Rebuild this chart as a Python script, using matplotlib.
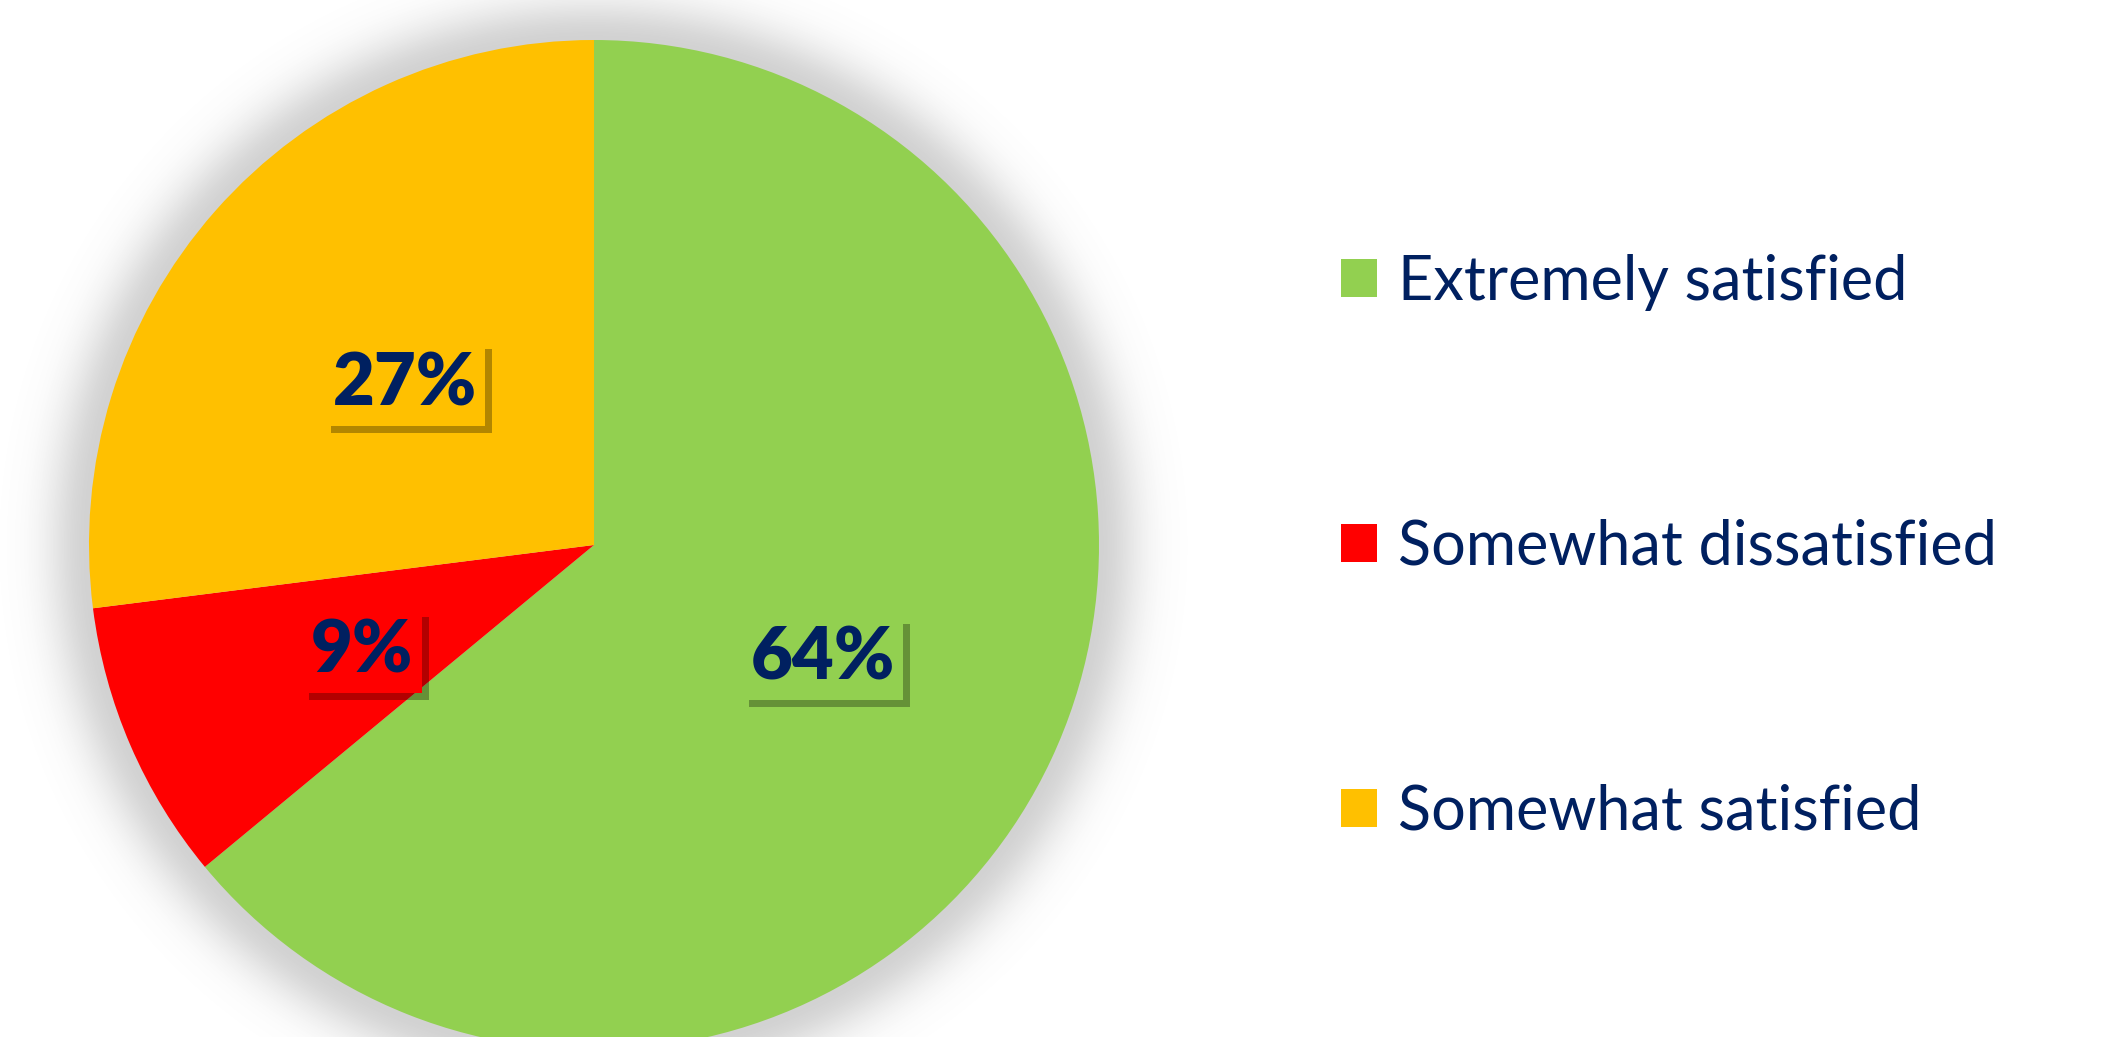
import numpy as np
import matplotlib
matplotlib.use('Agg')
import matplotlib.pyplot as plt
import matplotlib.patheffects as pe

# ------------------------------
# Data
# ------------------------------
categories = ['Extremely satisfied', 'Somewhat dissatisfied', 'Somewhat satisfied']
shares = [64, 9, 27]
colors = ['#92D050', '#FF0000', '#FFC000']
navy = '#002060'

plt.rcParams['font.family'] = ['Lato', 'DejaVu Sans']

# ------------------------------
# Figure / axes placement (pixels)
# ------------------------------
W, H, dpi = 2101, 1037, 100
fig = plt.figure(figsize=(W / dpi, H / dpi), dpi=dpi)
fig.patch.set_facecolor('white')

R = 505          # pie radius in px
cx, cy = 594, 545  # pie centre, px from top-left
L = 1.3          # axes half-size in pie radii (room for the soft shadow)
ax = fig.add_axes([(cx - L * R) / W, (H - cy - L * R) / H, 2 * L * R / W, 2 * L * R / H])

# soft shadow behind the pie
g = np.linspace(-L, L, 600)
xx, yy = np.meshgrid(g, g)
d = np.sqrt(xx ** 2 + yy ** 2) - 1.0
shade = np.where(d > 0, np.exp(-(d / 0.085) ** 2), 1.0)
rgba = np.zeros(xx.shape + (4,))
rgba[..., :3] = 0.45
rgba[..., 3] = 0.32 * shade
ax.imshow(rgba, extent=(-L, L, -L, L), origin='lower', zorder=0, interpolation='bilinear')

wedges, texts, autotexts = ax.pie(
    shares, colors=colors, startangle=90, counterclock=False, radius=1,
    autopct='%d%%', pctdistance=0.5,
    wedgeprops=dict(linewidth=0, zorder=2),
    textprops=dict(color=navy, fontsize=52, fontweight='heavy'),
)
for t, c in zip(autotexts, colors):
    t.set_zorder(5)
    t.set_va('center_baseline')
    t.set_bbox(dict(boxstyle='square,pad=0.12', facecolor=c, edgecolor='none'))
    t.get_bbox_patch().set_path_effects([
        pe.SimplePatchShadow(offset=(5, -5), shadow_rgbFace='black', alpha=0.3),
        pe.Normal(),
    ])

ax.set_xlim(-L, L)
ax.set_ylim(-L, L)
ax.set_aspect('equal')
ax.axis('off')

# ------------------------------
# Legend
# ------------------------------
fig.legend(
    wedges, categories, loc='center left', bbox_to_anchor=(1341 / W, 1 - 547 / H),
    frameon=False, fontsize=44, labelcolor=navy,
    handlelength=0.59, handleheight=0.59, handletextpad=0.34,
    labelspacing=3.4, borderpad=0, borderaxespad=0,
)

fig.savefig('out.png', dpi=dpi)
